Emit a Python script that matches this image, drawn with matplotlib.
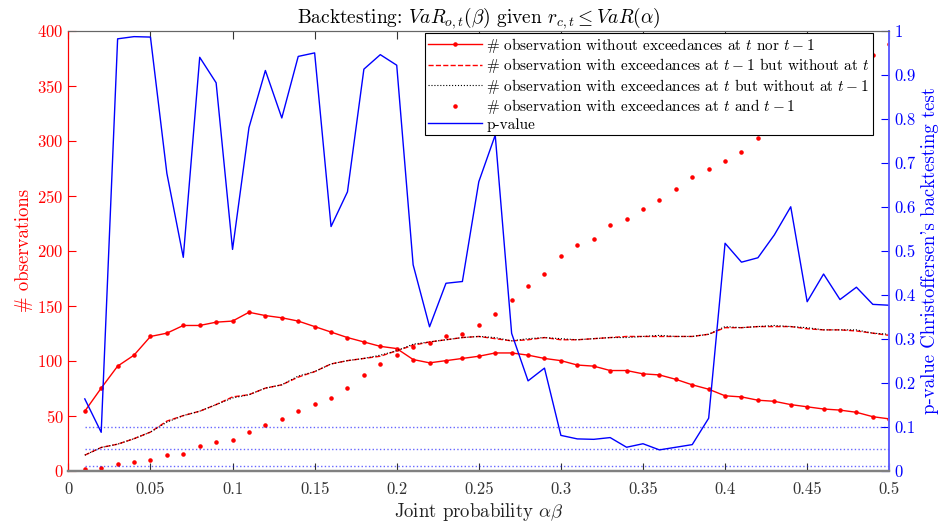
import numpy as np
import matplotlib
matplotlib.use("Agg")
import matplotlib.pyplot as plt
from matplotlib.ticker import FormatStrFormatter, MultipleLocator

plt.rcParams['font.family'] = ['cmr10', 'DejaVu Serif']
plt.rcParams['mathtext.fontset'] = 'cm'
plt.rcParams['axes.formatter.use_mathtext'] = True

# joint probability alpha*beta
prob = [round(0.01 * i, 2) for i in range(1, 51)]

# exceedance counts (left axis)
n_none = [54, 75, 95, 105, 122, 125, 132, 132, 135, 136,
          144, 141, 139, 136, 131, 126, 121, 117, 113, 111,
          101, 98, 100, 102, 104, 107, 107, 105, 102, 100,
          96, 95, 91, 91, 88, 87, 83, 78, 74, 68,
          67, 64, 63, 60, 58, 56, 55, 53, 49, 47]
n_prev_only = [14, 21, 24, 29, 35, 45, 50, 54, 60, 67,
               69, 75, 78, 85, 90, 97, 100, 102, 104, 109,
               114, 117, 119, 121, 122, 120, 118, 119, 121, 119,
               119, 120, 121, 122, 122, 122, 122, 122, 124, 130,
               130, 131, 131, 131, 129, 128, 128, 127, 125, 123]
n_curr_only = [14, 21, 24, 29, 35, 44, 50, 54, 60, 66,
               69, 75, 78, 86, 90, 97, 100, 102, 105, 109,
               115, 117, 119, 121, 122, 121, 118, 120, 121, 120,
               119, 120, 121, 121, 122, 123, 122, 122, 124, 131,
               130, 131, 132, 131, 130, 128, 128, 128, 125, 124]
n_both = [1, 2, 6, 8, 10, 14, 15, 22, 26, 28,
          35, 41, 47, 54, 61, 66, 75, 87, 97, 105,
          112, 116, 122, 124, 132, 142, 155, 168, 179, 195,
          205, 211, 223, 229, 238, 246, 256, 267, 274, 282,
          290, 303, 313, 323, 333, 343, 354, 366, 378, 388]

# Christoffersen p-values (right axis)
p_value = [0.163, 0.087, 0.982, 0.987, 0.986, 0.676, 0.485, 0.940, 0.882, 0.503,
           0.780, 0.910, 0.802, 0.942, 0.950, 0.555, 0.634, 0.913, 0.946, 0.922,
           0.468, 0.327, 0.426, 0.430, 0.657, 0.763, 0.312, 0.204, 0.233, 0.080,
           0.072, 0.071, 0.075, 0.053, 0.061, 0.047, 0.053, 0.059, 0.119, 0.517,
           0.474, 0.484, 0.536, 0.600, 0.384, 0.447, 0.389, 0.417, 0.378, 0.376]
signif_levels = [0.1, 0.05, 0.01]

fig = plt.figure(figsize=(9.43, 5.24), dpi=100)
ax = fig.add_axes([0.0725, 0.102, 0.8705, 0.839])
ax2 = ax.twinx()

h1, = ax.plot(prob, n_none, '-', color='red', lw=1.0, marker='.', ms=4.5,
              label=r'# observation without exceedances at $t$ nor $t-1$')
h2, = ax.plot(prob, n_prev_only, '--', color='red', lw=1.0,
              label=r'# observation with exceedances at $t-1$ but without at $t$')
h3, = ax.plot(prob, n_curr_only, ':', color='black', lw=0.8,
              label=r'# observation with exceedances at $t$ but without at $t-1$')
h4, = ax.plot(prob, n_both, '.', color='red', ms=4.5, ls='none',
              label=r'# observation with exceedances at $t$ and $t-1$')

for lev in signif_levels:
    ax2.plot([prob[0], prob[-1]], [lev, lev], ':', color='blue', lw=1.0, alpha=0.6)
h5, = ax2.plot(prob, p_value, '-', color='blue', lw=1.0, label='p-value')

ax.set_xlim(0, 0.5)
ax.set_ylim(0, 400)
ax2.set_ylim(0, 1)
ax.xaxis.set_major_locator(MultipleLocator(0.05))
ax.xaxis.set_major_formatter(FormatStrFormatter('%g'))
ax.yaxis.set_major_locator(MultipleLocator(50))
ax2.yaxis.set_major_locator(MultipleLocator(0.1))
ax2.yaxis.set_major_formatter(FormatStrFormatter('%g'))

ax.tick_params(axis='x', direction='in', top=True, length=6, colors='#333333',
               labelsize=12, pad=8)
ax.tick_params(axis='y', direction='in', length=6, colors='red', labelsize=12)
ax2.tick_params(axis='y', direction='in', length=6, colors='blue', labelsize=12)

for a in (ax, ax2):
    a.spines['bottom'].set_color('#808080')
    a.spines['bottom'].set_linewidth(1.6)
    a.spines['top'].set_color('#666666')
    a.spines['left'].set_color('red')
    a.spines['right'].set_color('#6060ff')
    a.spines['right'].set_linewidth(1.2)

ax.set_xlabel(r'Joint probability $\alpha\beta$', fontsize=13.5, color='#222222',
              labelpad=3)
ax.set_ylabel('# observations', fontsize=13.5, color='red', labelpad=3)
ax2.set_ylabel("p-value Christoffersen's backtesting test", fontsize=13.5,
               color='blue', labelpad=4)
ax.set_title(r'Backtesting: $VaR_{o,t}(\beta)$ given $r_{c,t} \leq VaR(\alpha)$',
             fontsize=14, pad=3)

leg = ax2.legend(handles=[h1, h2, h3, h4, h5], loc='upper right',
                 bbox_to_anchor=(0.98, 0.996), borderaxespad=0,
                 fancybox=False, framealpha=1, edgecolor='black',
                 fontsize=11, handlelength=3.5, labelspacing=0.1,
                 borderpad=0.2, handletextpad=0.3)
leg.get_frame().set_linewidth(0.8)

fig.savefig('out.png', dpi=100)
